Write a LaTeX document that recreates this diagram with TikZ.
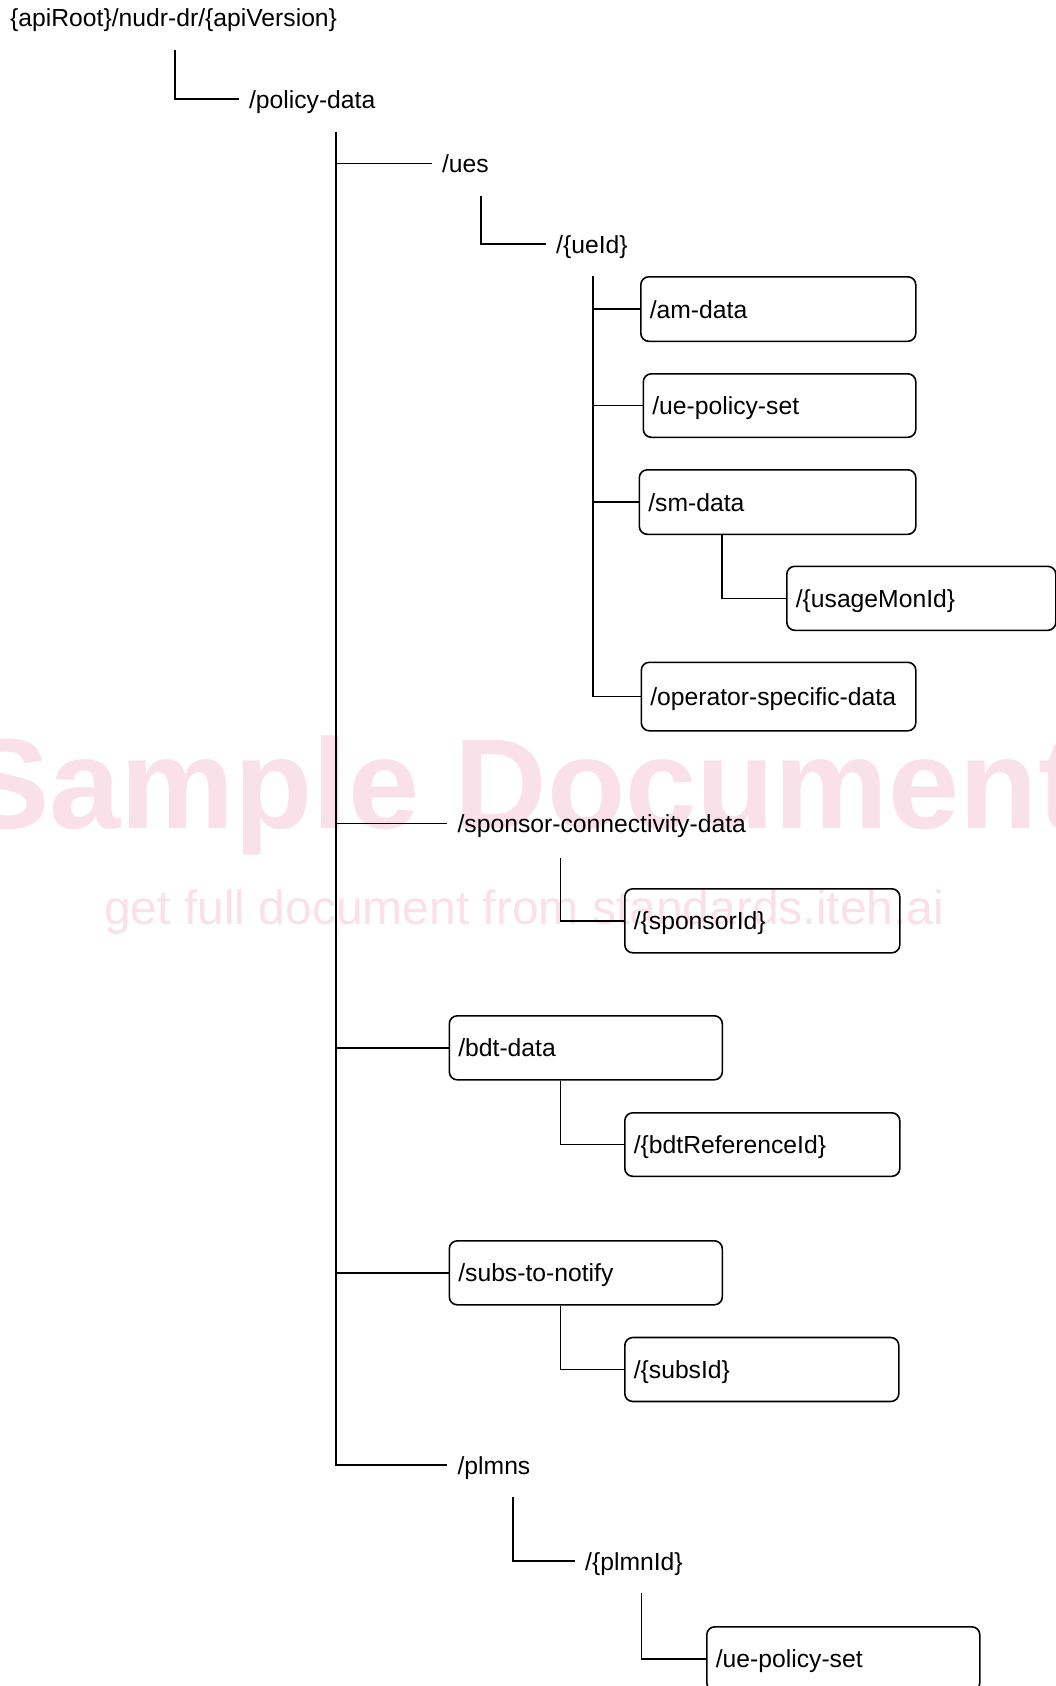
\documentclass[tikz,border=0pt]{standalone}
\usepackage{fontspec}
\setmainfont{Liberation Sans}
\definecolor{wmpink}{RGB}{249,224,233}
\begin{document}
\begin{tikzpicture}[x=1pt,y=-1pt,
  line/.style={line width=1.6pt, black},
  lbl/.style={font=\fontsize{24.7}{28}\selectfont, anchor=west, inner xsep=10pt, inner ysep=0pt, text height=18pt, text depth=0pt},
  rbox/.style={draw, line width=1.6pt, rounded corners=8pt, anchor=north west, inner xsep=9pt, inner ysep=0pt, font=\fontsize{24.7}{28}\selectfont, text height=18pt, text depth=0pt, align=left},
  wm/.style={text=wmpink, anchor=base west, inner sep=0pt}]
\useasboundingbox (0,0) rectangle (1056,1686);
% watermark
\node[wm, font=\fontsize{128}{150}\selectfont\bfseries] (wm1) at (-36,828.5) {Sample Document};
\node[wm, font=\fontsize{48}{56}\selectfont] (wm2) at (103.8,924) {get full document from standards.iteh.ai};
% plain labels
\node[lbl] (title) at (0,18) {\{apiRoot\}/nudr-dr/\{apiVersion\}};
\node[lbl] (policy) at (238.8,99) {/policy-data};
\node[lbl] (ues) at (431.8,163.3) {/ues};
\node[lbl] (ueid) at (546,244) {/\{ueId\}};
\node[lbl] (sponsor) at (447.4,823.5) {/sponsor-connectivity-data};
\node[lbl] (plmns) at (447.4,1465) {/plmns};
\node[lbl] (plmnid) at (575,1561) {/\{plmnId\}};
% boxes
\node[rbox, text width=257pt, minimum height=64.5pt] (amdata) at (640,276) {/am-data};
\node[rbox, text width=254.5pt, minimum height=63.5pt] (uepolicy) at (642.5,373) {/ue-policy-set};
\node[rbox, text width=258.5pt, minimum height=64.5pt] (smdata) at (638.5,469) {/sm-data};
\node[rbox, text width=251pt, minimum height=64pt] (usage) at (786,565.5) {/\{usageMonId\}};
\node[rbox, text width=256.5pt, minimum height=68.5pt] (opdata) at (640.5,661.5) {/operator-specific-data};
\node[rbox, text width=257pt, minimum height=64pt] (sponsorid) at (624,888) {/\{sponsorId\}};
\node[rbox, text width=255pt, minimum height=64pt] (bdtdata) at (448.5,1015) {/bdt-data};
\node[rbox, text width=257pt, minimum height=63.5pt] (bdtref) at (624,1112) {/\{bdtReferenceId\}};
\node[rbox, text width=255pt, minimum height=64pt] (substo) at (448.5,1240) {/subs-to-notify};
\node[rbox, text width=256pt, minimum height=64pt] (subsid) at (624,1336.7) {/\{subsId\}};
\node[rbox, text width=255pt, minimum height=64pt] (uepol2) at (706,1626) {/ue-policy-set};
% connectors
\coordinate (c0) at (174.7,50);
\draw[line] (c0) |- (policy.west);
\coordinate (c1) at (336,131.7);
\draw[line] (c1) |- (plmns.west);
\draw[line] (c1 |- ues.west) -- (ues.west);
\draw[line] (c1 |- sponsor.west) -- (sponsor.west);
\draw[line] (c1 |- bdtdata.west) -- (bdtdata.west);
\draw[line] (c1 |- substo.west) -- (substo.west);
\coordinate (c2) at (480.8,195.7);
\draw[line] (c2) |- (ueid.west);
\coordinate (c3) at (593,276);
\draw[line] (c3) |- (opdata.west);
\draw[line] (c3 |- amdata.west) -- (amdata.west);
\draw[line] (c3 |- uepolicy.west) -- (uepolicy.west);
\draw[line] (c3 |- smdata.west) -- (smdata.west);
\draw[line] (smdata.south west) ++(83.5,0) |- (usage.west);
\coordinate (c5) at (560.5,858);
\draw[line] (c5) |- (sponsorid.west);
\draw[line] (bdtdata.south west) ++(112,0) |- (bdtref.west);
\draw[line] (substo.south west) ++(112,0) |- (subsid.west);
\coordinate (c6) at (512.8,1497);
\draw[line] (c6) |- (plmnid.west);
\coordinate (c7) at (641.5,1593.3);
\draw[line] (c7) |- (uepol2.west);
\end{tikzpicture}
\end{document}
